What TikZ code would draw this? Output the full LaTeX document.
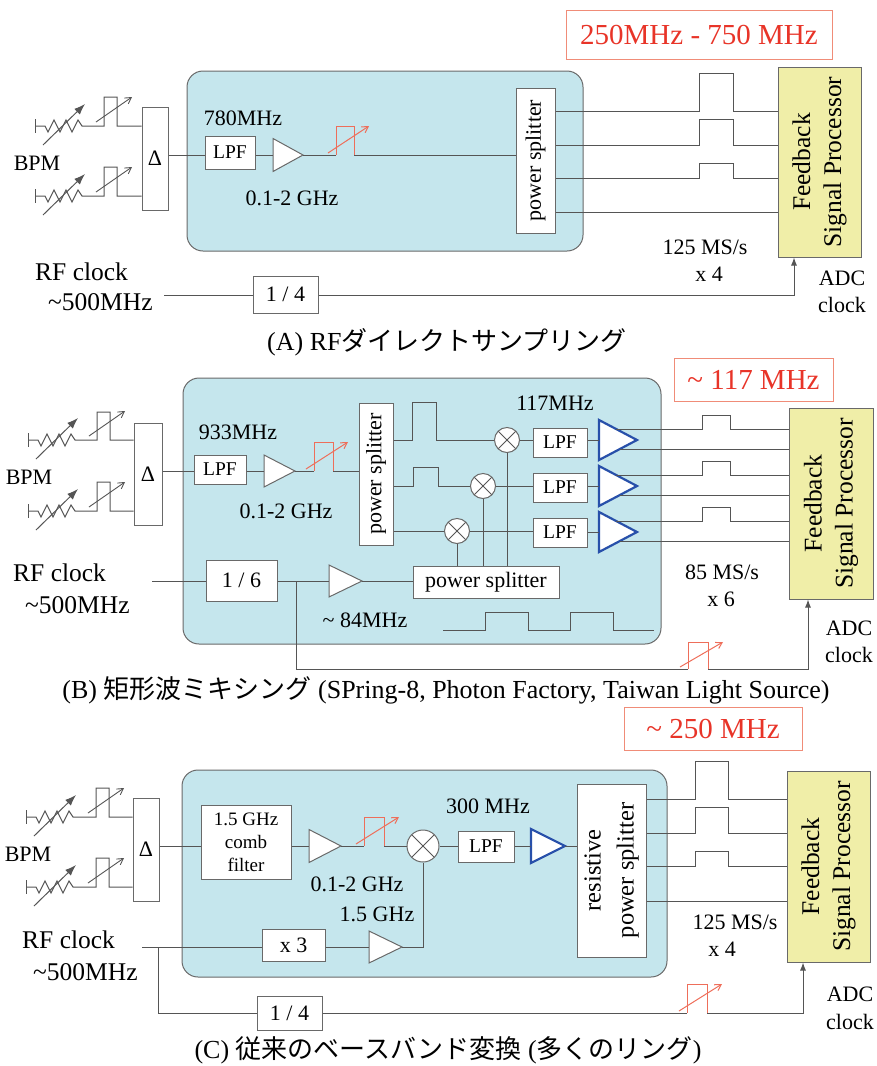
\documentclass[tikz,border=0pt]{standalone}
\usepackage{fontspec}
\setmainfont{Liberation Serif}
\newfontfamily\jpfont{Noto Sans CJK JP}
\usetikzlibrary{arrows.meta,calc}
\definecolor{lc}{RGB}{85,85,85}
\definecolor{bc}{RGB}{105,105,105}
\definecolor{panelfill}{RGB}{197,230,237}
\definecolor{fbfill}{RGB}{240,238,168}
\definecolor{redtxt}{RGB}{232,52,40}
\definecolor{redbox}{RGB}{240,140,120}
\definecolor{redln}{RGB}{238,110,90}
\definecolor{ampblue}{RGB}{40,80,170}
\newcommand\fN{\fontsize{22}{26}\selectfont}
\newcommand\fL{\fontsize{19.5}{23}\selectfont}
\newcommand\fB{\fontsize{25.5}{31}\selectfont}
\newcommand\fR{\fontsize{29}{34}\selectfont}
\newcommand\fC{\fontsize{26}{30}\selectfont}
\newcommand\fS{\fontsize{19}{23}\selectfont}
\newcommand\fP{\fontsize{24.5}{33}\selectfont}
\tikzset{
  ln/.style={draw=lc, line width=1pt},
  panel/.style={draw=bc, fill=panelfill, line width=1pt, rounded corners=16pt, inner sep=0pt},
  blk/.style={draw=bc, fill=white, line width=1pt, inner sep=0pt, font=\fN},
  lpfbox/.style={blk, font=\fL},
  fbbox/.style={draw=bc, fill=fbfill, line width=1pt, inner sep=0pt},
  lbl/.style={inner sep=0pt, font=\fN, text=black},
  rottxt/.style={inner sep=0pt, rotate=90, align=center},
  redlbl/.style={draw=redbox, line width=1pt, text=redtxt, font=\fR, inner sep=0pt},
  mixer/.style={circle, draw=bc, fill=white, line width=1pt, inner sep=0pt,
    path picture={\draw[lc, line width=0.8pt] (path picture bounding box.north west) -- (path picture bounding box.south east) (path picture bounding box.north east) -- (path picture bounding box.south west);}},
  rarr/.style={draw=redln, line width=1pt, -{Straight Barb[length=6pt,width=7pt]}},
  garr/.style={draw=lc, line width=0.9pt, -{Straight Barb[length=6pt,width=7pt]}},
  gamp/.style={draw=bc, fill=white, line width=1pt},
  bamp/.style={draw=ampblue, fill=white, line width=2.2pt, line join=miter},
  adcarr/.style={ln, -{Latex[length=8pt,width=6pt]}},
}
% amplifier triangle: [style]{name}{x left}{y centre}{length}{half height}
\newcommand\amptri[6][gamp]{%
  \coordinate (#2-tl) at (#3,#4-#6);
  \coordinate (#2-bl) at (#3,#4+#6);
  \coordinate (#2-in) at (#3,#4);
  \coordinate (#2-out) at (#3+#5,#4);
  \draw[#1] (#2-tl) -- (#2-out) -- (#2-bl) -- cycle;}
% BPM pick-up with attenuator and pulse: {name}{ground x}{y}{pulse x}{pulse top}{target node}
\newcommand\bpm[6]{%
  \coordinate (#1-g) at (#2,#3);
  \draw[ln] (#2,#3-7) -- (#2,#3+7);
  \draw[ln] (#1-g) -- ++(10,0) -- ++(3,6) -- ++(6,-12) -- ++(6,12) -- ++(6,-12) -- ++(6,12) -- ++(6,-12) -- ++(4,6)
     -- (#4,#3) -- (#4,#5) -- (#4+13,#5) -- (#4+13,#3) -- (#6.west |- #1-g);
  \draw[ln, -{Latex[length=11pt,width=8pt]}] (#2+8,#3+19) -- (#2+50,#3-22);
  \draw[garr] (#4-8,#3-4) -- (#4+28,#3-29);}
% red pulse with arrow: {name}{x1}{x2}{top}{base}
\newcommand\rpulse[5]{%
  \coordinate (#1-a) at (#2,#5);
  \coordinate (#1-b) at (#3,#5);
  \draw[draw=redln, line width=1pt] (#1-a) -- (#2,#4) -- (#3,#4) -- (#1-b);
  \draw[rarr] (#2-8,#5-2) -- (#3+15,#4);}
\begin{document}
\begin{tikzpicture}[x=1pt,y=-1pt]
\useasboundingbox (0,0) rectangle (876,1066);

%================ (A) =================
\node[panel, minimum width=396pt, minimum height=180pt] (pA) at (385,161) {};
\node[blk, minimum width=26pt, minimum height=103pt] (dA) at (155,158.5) {Δ};
\bpm{bA1}{35}{126}{104}{97}{dA}
\bpm{bA2}{35}{196}{104}{167}{dA}
\node[lbl] (bpmA) at (37,163) {BPM};
\node[lpfbox, minimum width=50pt, minimum height=33pt] (lpfA) at (230,152.5) {LPF};
\amptri{aA}{273}{155}{30}{16.5}
\node[lbl] (fA1) at (243,118) {780MHz};
\node[lbl] (fA2) at (292,198) {0.1-2 GHz};
\node[blk, minimum width=39pt, minimum height=145pt] (psA) at (535.5,160.5) {};
\node[rottxt, font=\fN] (psAt) at (psA.center) {power splitter};
\rpulse{rpA}{336}{354}{126}{155}
\draw[ln] (dA.east |- 0,155) -- (lpfA.west |- 0,155);
\draw[ln] (lpfA.east |- 0,155) -- (aA-in);
\draw[ln] (aA-out) -- (rpA-a);
\draw[ln] (rpA-b) -- (psA.west |- 0,155);
\node[fbbox, minimum width=83pt, minimum height=190pt] (fbA) at (819.5,162) {};
\node[rottxt, font=\fB] (fbAt) at (fbA.center) {Feedback\\Signal Processor};
\foreach \yy/\tp in {111/73,145/119,178/163}
  \draw[ln] (psA.east |- 0,\yy) -- (699,\yy) -- (699,\tp) -- (733,\tp) -- (733,\yy) -- (fbA.west |- 0,\yy);
\draw[ln] (psA.east |- 0,212) -- (fbA.west |- 0,212);
\node[redlbl, minimum width=266pt, minimum height=49pt] (rA) at (699,34.5) {250MHz - 750 MHz};
\node[lbl] (msA) at (705,247) {125 MS/s};
\node[lbl] (xA) at (709,274) {x 4};
\node[lbl] (adcAt) at (842,278) {ADC};
\node[lbl] (adcAc) at (842,305) {clock};
\node[lbl, font=\fB, anchor=west] (rfA) at (35,272) {RF clock};
\node[lbl, font=\fB, anchor=west] (rfA2) at (48,302) {\textasciitilde500MHz};
\coordinate (clkA) at (164,295);
\node[blk, minimum width=65pt, minimum height=37pt] (q4A) at (285.5,294.5) {1 / 4};
\coordinate (adcA) at (794,295);
\draw[ln] (clkA) -- (q4A.west |- clkA);
\draw[adcarr] (q4A.east |- clkA) -- (adcA) -- (adcA |- fbA.south);
\node[lbl, font=\fC] (capA) at (447,342) {(A) RF{\jpfont ダイレクトサンプリング}};

%================ (B) =================
\node[panel, minimum width=478pt, minimum height=266pt] (pB) at (422,511) {};
\node[blk, minimum width=28pt, minimum height=102pt] (dB) at (148,474) {Δ};
\bpm{bB1}{28}{440}{97}{412}{dB}
\bpm{bB2}{28}{511}{97}{482}{dB}
\node[lbl] (bpmB) at (29,477) {BPM};
\node[lpfbox, minimum width=52pt, minimum height=29pt] (lpfB) at (220,469.5) {LPF};
\amptri{aB}{264}{471}{31}{16}
\node[lbl] (fB1) at (238,432) {933MHz};
\node[lbl] (fB2) at (286,511) {0.1-2 GHz};
\node[blk, minimum width=34pt, minimum height=142pt] (psB) at (376,474) {};
\node[rottxt, font=\fN] (psBt) at (psB.center) {power splitter};
\rpulse{rpB}{314}{333}{442}{471}
\draw[ln] (dB.east |- 0,471) -- (lpfB.west |- 0,471);
\draw[ln] (lpfB.east |- 0,471) -- (aB-in);
\draw[ln] (aB-out) -- (rpB-a);
\draw[ln] (rpB-b) -- (psB.west |- 0,471);
% mixers
\node[mixer, minimum size=25pt] (mB1) at (507,440) {};
\node[mixer, minimum size=25pt] (mB2) at (483,486) {};
\node[mixer, minimum size=25pt] (mB3) at (457,531) {};
\node[blk, minimum width=146pt, minimum height=32pt] (psH) at (486,582) {power splitter};
\draw[ln] (mB1.south |- psH.north) -- (mB1.south);
\draw[ln] (mB2.south |- psH.north) -- (mB2.south);
\draw[ln] (mB3.south |- psH.north) -- (mB3.south);
\draw[ln] (psB.east |- mB1) -- (412,440) -- (412,402) -- (436,402) -- (436,440) -- (mB1.west);
\draw[ln] (psB.east |- mB2) -- (413,486) -- (413,467) -- (438,467) -- (438,486) -- (mB2.west);
\draw[ln] (psB.east |- mB3) -- (mB3.west);
\node[lpfbox, minimum width=54pt, minimum height=29pt] (lB1) at (560,442.5) {LPF};
\node[lpfbox, minimum width=54pt, minimum height=29pt] (lB2) at (560,487.5) {LPF};
\node[lpfbox, minimum width=54pt, minimum height=29pt] (lB3) at (560,532.5) {LPF};
\draw[ln] (mB1.east) -- (lB1.west |- mB1.east);
\draw[ln] (mB2.east) -- (lB2.west |- mB2.east);
\draw[ln] (mB3.east) -- (lB3.west |- mB3.east);
\node[fbbox, minimum width=84pt, minimum height=191pt] (fbB) at (831,503.5) {};
\node[rottxt, font=\fB] (fbBt) at (fbB.center) {Feedback\\Signal Processor};
\foreach \k/\yc in {1/440,2/486,3/532}{
  \amptri[bamp]{aB\k}{599}{\yc}{38}{20}
  \draw[ln] (lB\k.east |- aB\k-in) -- (aB\k-in);
  \coordinate (aB\k-u) at ($(aB\k-tl)!0.45!(aB\k-out)$);
  \coordinate (aB\k-l) at ($(aB\k-bl)!0.55!(aB\k-out)$);
  \draw[ln] (aB\k-u) -- (aB\k-u -| 702,0) -- ++(0,-13.5) -- ++(28,0) -- ++(0,13.5) -- (aB\k-u -| fbB.west);
  \draw[ln] (aB\k-l) -- (aB\k-l -| fbB.west);
}
\node[lbl] (fB3) at (555,403) {117MHz};
\node[redlbl, minimum width=159pt, minimum height=43pt] (rB) at (753.5,379.5) {\textasciitilde\ 117 MHz};
\node[lbl] (msB) at (722,572) {85 MS/s};
\node[lbl] (xB) at (721,599) {x 6};
\node[lbl] (adcBt) at (849,628) {ADC};
\node[lbl] (adcBc) at (849,655) {clock};
\node[lbl, font=\fB, anchor=west] (rfB) at (13,573) {RF clock};
\node[lbl, font=\fB, anchor=west] (rfB2) at (25,605) {\textasciitilde500MHz};
\coordinate (clkB) at (152,581);
\node[blk, minimum width=71pt, minimum height=41pt] (d6) at (241.5,580.5) {1 / 6};
\amptri{aB4}{329}{581}{33}{16}
\draw[ln] (clkB) -- (d6.west |- clkB);
\draw[ln] (d6.east |- clkB) -- (aB4-in);
\draw[ln] (aB4-out) -- (psH.west |- aB4-out);
\node[lbl] (fB4) at (365,620) {\textasciitilde\ 84MHz};
\draw[ln] (443,630) -- (485,630) -- (485,612) -- (528,612) -- (528,630) -- (570,630) -- (570,612) -- (613,612) -- (613,630) -- (654,630);
\coordinate (brB) at (296,581);
\rpulse{rpB2}{688}{708}{642}{669}
\coordinate (adcB) at (808,669);
\draw[ln] (brB) -- (brB |- rpB2-a) -- (rpB2-a);
\draw[adcarr] (rpB2-b) -- (adcB) -- (adcB |- fbB.south);
\node[lbl, font=\fC] (capB) at (446,690) {(B) {\jpfont 矩形波ミキシング} (SPring-8, Photon Factory, Taiwan Light Source)};

%================ (C) =================
\node[panel, minimum width=485pt, minimum height=207pt] (pC) at (424.5,873.5) {};
\node[blk, minimum width=26pt, minimum height=103pt] (dC) at (146,849.5) {Δ};
\bpm{bC1}{26}{817}{96}{788}{dC}
\bpm{bC2}{26}{887}{96}{858}{dC}
\node[lbl] (bpmC) at (28,854) {BPM};
\node[blk, font=\fS, align=center, minimum width=90pt, minimum height=74pt] (comb) at (246,842) {1.5 GHz\\comb\\filter};
\amptri{aC}{309}{846}{32}{16.5}
\rpulse{rpC}{364}{384}{817}{846}
\node[mixer, minimum size=32pt] (mC) at (423,846) {};
\node[lpfbox, minimum width=56pt, minimum height=31pt] (lpfC) at (486,846.5) {LPF};
\amptri[bamp]{aC3}{531}{846}{34}{17}
\node[blk, minimum width=69pt, minimum height=173pt] (rps) at (611.5,870.5) {};
\node[rottxt, font=\fP] (rpst) at (rps.center) {resistive\\power splitter};
\draw[ln] (dC.east |- 0,846) -- (comb.west |- 0,846);
\draw[ln] (comb.east |- 0,846) -- (aC-in);
\draw[ln] (aC-out) -- (rpC-a);
\draw[ln] (rpC-b) -- (mC.west);
\draw[ln] (mC.east) -- (lpfC.west |- mC.east);
\draw[ln] (lpfC.east |- aC3-in) -- (aC3-in);
\draw[ln] (aC3-out) -- (rps.west |- aC3-out);
\node[lbl] (fC1) at (357,884) {0.1-2 GHz};
\node[lbl] (fC2) at (377,914) {1.5 GHz};
\node[lbl] (fC3) at (488,806) {300 MHz};
\node[fbbox, minimum width=83pt, minimum height=191pt] (fbC) at (828.5,866.5) {};
\node[rottxt, font=\fB] (fbCt) at (fbC.center) {Feedback\\Signal Processor};
\foreach \yy/\tp in {799/761,833/807,866/851}
  \draw[ln] (rps.east |- 0,\yy) -- (695,\yy) -- (695,\tp) -- (728,\tp) -- (728,\yy) -- (fbC.west |- 0,\yy);
\draw[ln] (rps.east |- 0,901) -- (fbC.west |- 0,901);
\node[redlbl, minimum width=178pt, minimum height=43pt] (rC) at (713,728.5) {\textasciitilde\ 250 MHz};
\node[lbl] (msC) at (735,922) {125 MS/s};
\node[lbl] (xC) at (722,949) {x 4};
\node[lbl] (adcCt) at (850,994) {ADC};
\node[lbl] (adcCc) at (850,1022) {clock};
\node[lbl, font=\fB, anchor=west] (rfC) at (22,940) {RF clock};
\node[lbl, font=\fB, anchor=west] (rfC2) at (33,972) {\textasciitilde500MHz};
\coordinate (clkC) at (142,947);
\node[blk, minimum width=63pt, minimum height=32pt] (x3) at (293.5,945.5) {x 3};
\amptri{aC2}{369}{947}{33}{16}
\draw[ln] (clkC) -- (x3.west |- clkC);
\draw[ln] (x3.east |- clkC) -- (aC2-in);
\draw[ln] (aC2-out) -- (mC.south |- aC2-out) -- (mC.south);
\coordinate (brC) at (158,947);
\node[blk, minimum width=65pt, minimum height=34pt] (q4C) at (289.5,1013) {1 / 4};
\rpulse{rpC2}{687}{707}{984}{1013}
\coordinate (adcC) at (803,1013);
\draw[ln] (brC) -- (brC |- q4C.west) -- (q4C.west);
\draw[ln] (q4C.east) -- (rpC2-a);
\draw[adcarr] (rpC2-b) -- (adcC) -- (adcC |- fbC.south);
\node[lbl, font=\fC] (capC) at (448,1050) {(C) {\jpfont 従来のベースバンド変換} ({\jpfont 多くのリング})};
\end{tikzpicture}
\end{document}
